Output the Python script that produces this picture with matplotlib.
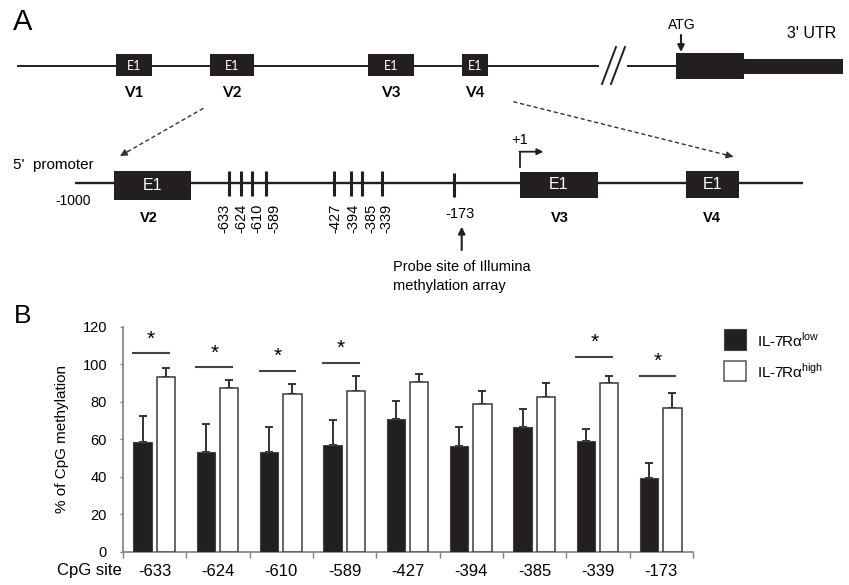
import matplotlib
matplotlib.use('Agg')
import matplotlib.pyplot as plt
from matplotlib.patches import Rectangle
import numpy as np

plt.rcParams['font.family'] = ['Liberation Sans', 'DejaVu Sans']
plt.rcParams['mathtext.fontset'] = 'custom'
plt.rcParams['mathtext.rm'] = 'Liberation Sans'

# ---------------- data ----------------
cpg_sites = ['-633', '-624', '-610', '-589', '-427', '-394', '-385', '-339', '-173']
low_mean = [58.3, 53.3, 53.2, 56.9, 70.9, 56.2, 66.5, 59.2, 39.1]
low_err = [14.1, 14.6, 13.1, 13.3, 9.6, 10.1, 9.4, 6.4, 8.0]
high_mean = [93.0, 87.1, 84.1, 85.5, 90.7, 78.9, 82.7, 90.1, 76.8]
high_err = [5.1, 4.3, 5.2, 8.2, 3.9, 6.8, 7.4, 3.6, 8.0]
sig_index = [0, 1, 2, 3, 7, 8]
sig_height = [105.8, 98.5, 96.5, 100.8, 104.0, 93.9]
y_ticks = [0, 20, 40, 60, 80, 100, 120]
series_names = ['IL-7R\u03b1$^{\\mathregular{low}}$', 'IL-7R\u03b1$^{\\mathregular{high}}$']
top_variants = ['V1', 'V2', 'V3', 'V4']
mid_variants = ['V2', 'V3', 'V4']

W, H = 849, 585
fig = plt.figure(figsize=(W / 100, H / 100), dpi=100)
dax = fig.add_axes([0, 0, 1, 1])
dax.set_xlim(0, W)
dax.set_ylim(H, 0)
dax.axis('off')

DARK = '#231f20'

# ---------------- panel A: gene diagram (pixel layout) ----------------
dax.text(23, 22, 'A', fontsize=21, ha='center', va='center')
# top line
dax.plot([16.7, 599], [66, 66], color=DARK, lw=1.4, solid_capstyle='butt')
dax.plot([626.7, 676], [66, 66], color=DARK, lw=1.4, solid_capstyle='butt')
dax.plot([602, 616], [84, 47], color=DARK, lw=1.4)
dax.plot([611, 625], [84, 47], color=DARK, lw=1.4)
dax.add_patch(Rectangle((676, 53.3), 68, 25.7, color=DARK, lw=0))
dax.add_patch(Rectangle((744, 59.3), 99.3, 14.7, color=DARK, lw=0))
dax.text(682, 25, 'ATG', fontsize=10, ha='center', va='center')
dax.annotate('', xy=(681, 52), xytext=(681, 35),
             arrowprops=dict(arrowstyle='-|>', color=DARK, lw=1.5, mutation_scale=10,
                             shrinkA=0, shrinkB=0))
dax.text(811.7, 33, "3' UTR", fontsize=11.5, ha='center', va='center')

top_boxes = [(116, 152.3), (210, 254.3), (368.3, 414), (461.7, 487.7)]
for (x0, x1), name in zip(top_boxes, top_variants):
    dax.add_patch(Rectangle((x0, 54), x1 - x0, 22, color=DARK, lw=0))
    dax.text((x0 + x1) / 2, 65.5, 'E1', fontsize=9, color='white', ha='center',
             va='center', family=['Lato', 'DejaVu Sans'])
    dax.text((x0 + x1) / 2, 93.3, name, fontsize=11, fontweight='bold', ha='center',
             va='center', family=['Lato', 'DejaVu Sans'])

# dashed zoom lines
def dashed_arrow(p0, p1):
    dax.plot([p0[0], p1[0]], [p0[1], p1[1]], color='#333333', lw=1, linestyle=(0, (3, 2)))
    v = np.array(p1) - np.array(p0)
    v = v / np.hypot(*v)
    start = np.array(p1) - v * 9
    dax.annotate('', xy=p1, xytext=tuple(start),
                 arrowprops=dict(arrowstyle='-|>', color='#333333', lw=1, mutation_scale=10,
                                 shrinkA=0, shrinkB=0))

dashed_arrow((203.3, 108.3), (120, 156))
dashed_arrow((513.3, 101.7), (733.3, 156.7))

# middle line
dax.text(12.7, 165, "5'  promoter", fontsize=11, ha='left', va='center')
dax.plot([75, 803.3], [183.3, 183.3], color=DARK, lw=1.7, solid_capstyle='butt')
mid_boxes = [(114.3, 191, 171, 200), (520, 597.7, 171.7, 197.7), (685.7, 739, 171, 198.3)]
mid_label_x = [149, 560, 712.3]
for (x0, x1, y0, y1), name, lx in zip(mid_boxes, mid_variants, mid_label_x):
    dax.add_patch(Rectangle((x0, y0), x1 - x0, y1 - y0, color=DARK, lw=0))
    dax.text((x0 + x1) / 2, (y0 + y1) / 2, 'E1', fontsize=11.5, color='white',
             ha='center', va='center')
    dax.text(lx, 218.5, name, fontsize=10.5, fontweight='bold', ha='center', va='center')
dax.text(55, 201, '-1000', fontsize=10, ha='left', va='center')

cpg_tick_x = [229.3, 240.7, 252.3, 265.7, 334, 350.7, 362.3, 382.3, 454.3]
cpg_label_x = [224, 241, 257.7, 274.7, 335.8, 353, 371, 386.7]
for i, tx in enumerate(cpg_tick_x):
    if i < 8:
        dax.plot([tx, tx], [170.7, 195.7], color=DARK, lw=2.2, solid_capstyle='butt')
        dax.text(cpg_label_x[i], 203.3, cpg_sites[i], fontsize=10.5, rotation=90,
                 ha='center', va='top')
    else:
        dax.plot([tx, tx], [172.7, 196.7], color=DARK, lw=2.2, solid_capstyle='butt')
        dax.text(459.7, 214, cpg_sites[i], fontsize=10.5, ha='center', va='center')

dax.annotate('', xy=(461.7, 226.7), xytext=(461.7, 250),
             arrowprops=dict(arrowstyle='-|>', color=DARK, lw=1.5, mutation_scale=10,
                             shrinkA=0, shrinkB=0))
dax.text(392.7, 267.3, 'Probe site of Illumina', fontsize=10.5, ha='left', va='center')
dax.text(392.7, 286, 'methylation array', fontsize=10.5, ha='left', va='center')

dax.text(520, 140, '+1', fontsize=10.5, ha='center', va='center')
dax.plot([520, 520], [166.7, 151.7], color=DARK, lw=1.3)
dax.annotate('', xy=(543.3, 151.7), xytext=(519.4, 151.7),
             arrowprops=dict(arrowstyle='-|>', color=DARK, lw=1.3, mutation_scale=9,
                             shrinkA=0, shrinkB=0))

# ---------------- panel B: bar chart ----------------
dax.text(23, 316, 'B', fontsize=19, ha='center', va='center')

ax = fig.add_axes([123 / W, (H - 551.7) / H, 570 / W, 224.9 / H])
ax.patch.set_visible(False)
n = len(cpg_sites)
idx = np.arange(n)
bw = 0.29
x_low = idx + 0.31
x_high = idx + 0.675

ax.bar(x_low, low_mean, width=bw, color=DARK, edgecolor='#444444', linewidth=0.8, zorder=3)
ax.bar(x_high, high_mean, width=bw, color='white', edgecolor='#3a3a3a', linewidth=1.1, zorder=3)
ax.errorbar(x_low, low_mean, yerr=[np.zeros(n), low_err], fmt='none', ecolor='#333333',
            elinewidth=1.4, capsize=3, capthick=1.4, zorder=2)
ax.errorbar(x_high, high_mean, yerr=[np.zeros(n), high_err], fmt='none', ecolor='#333333',
            elinewidth=1.4, capsize=3, capthick=1.4, zorder=2)

for gi, h in zip(sig_index, sig_height):
    ax.plot([gi + 0.16, gi + 0.72], [h, h], color='#444444', lw=1.5, clip_on=False)
    ax.text(gi + 0.44, h + 2.5, '*', fontsize=15, ha='center', va='bottom', clip_on=False)

ax.set_xlim(0, n)
ax.set_ylim(0, 120)
ax.set_yticks(y_ticks)
ax.set_yticklabels([str(v) for v in y_ticks], fontsize=10.5)
ax.set_xticks(np.arange(n + 1))
ax.set_xticklabels([])
ax.set_xticks(idx + 0.5, minor=True)
ax.set_xticklabels(cpg_sites, minor=True, fontsize=12)
ax.tick_params(axis='x', which='major', direction='out', length=4, width=1, color='#808080')
ax.tick_params(axis='x', which='minor', length=0, pad=9)
ax.tick_params(axis='y', direction='out', length=2.5, width=1, color='#808080', pad=9)
for s in ['top', 'right']:
    ax.spines[s].set_visible(False)
for s in ['left', 'bottom']:
    ax.spines[s].set_color('#808080')
    ax.spines[s].set_linewidth(1.2)

dax.text(62, 439, '% of CpG methylation', fontsize=11, rotation=90, ha='center', va='center')
dax.text(57, 571, 'CpG site', fontsize=12, ha='left', va='center')

# legend
dax.add_patch(Rectangle((724.5, 329.3), 22, 20.7, facecolor=DARK, edgecolor='#444444', lw=0.8))
dax.add_patch(Rectangle((724.5, 360.7), 22, 20.3, facecolor='white', edgecolor='#555555', lw=1.1))
dax.text(757, 340, series_names[0], fontsize=11, ha='left', va='center')
dax.text(757, 371, series_names[1], fontsize=11, ha='left', va='center')

fig.savefig('out.png', dpi=100)
